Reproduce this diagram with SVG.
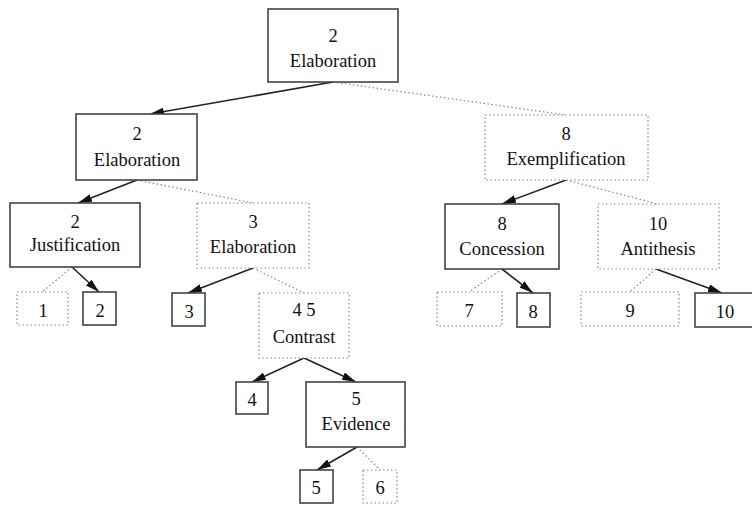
<svg xmlns="http://www.w3.org/2000/svg" width="752" height="505" viewBox="0 0 752 505">
<style>
.nuc{fill:#fff;stroke:#444;stroke-width:1.6}
.sat{fill:#fff;stroke:#888;stroke-width:1.2;stroke-dasharray:1.5 2.5}
text{font-family:"Liberation Serif","Times New Roman",serif;font-size:18.5px;fill:#111;text-anchor:middle}
.arr{stroke:#222;stroke-width:1.6;fill:none}
.dot{stroke:#888;stroke-width:1.2;stroke-dasharray:1.5 2.5;fill:none}
</style>
<defs>
<marker id="ah" viewBox="0 0 14 8" refX="14" refY="4" markerWidth="14" markerHeight="8" markerUnits="userSpaceOnUse" orient="auto">
<path d="M0,0 L14,4 L0,8 Z" fill="#111"/>
</marker>
</defs>
<rect width="752" height="505" fill="#fff"/>
<g id="connectors">
<line class="arr" x1="333" y1="82" x2="150" y2="114" marker-end="url(#ah)"/>
<line class="dot" x1="333" y1="82" x2="566" y2="115"/>
<line class="arr" x1="137" y1="180" x2="78" y2="203" marker-end="url(#ah)"/>
<line class="dot" x1="137" y1="180" x2="253" y2="203"/>
<line class="arr" x1="566" y1="180" x2="502" y2="204" marker-end="url(#ah)"/>
<line class="dot" x1="566" y1="180" x2="658" y2="204"/>
<line class="dot" x1="72" y1="267" x2="42" y2="292"/>
<line class="arr" x1="72" y1="267" x2="99" y2="292" marker-end="url(#ah)"/>
<line class="arr" x1="253" y1="268" x2="188" y2="293" marker-end="url(#ah)"/>
<line class="dot" x1="253" y1="268" x2="304" y2="293"/>
<line class="arr" x1="304" y1="358" x2="252" y2="382" marker-end="url(#ah)"/>
<line class="arr" x1="304" y1="358" x2="356" y2="382" marker-end="url(#ah)"/>
<line class="arr" x1="357" y1="447" x2="317" y2="470" marker-end="url(#ah)"/>
<line class="dot" x1="357" y1="447" x2="380" y2="470"/>
<line class="dot" x1="502" y1="269" x2="469" y2="292"/>
<line class="arr" x1="502" y1="269" x2="533" y2="293" marker-end="url(#ah)"/>
<line class="dot" x1="656" y1="269" x2="630" y2="292"/>
<line class="arr" x1="656" y1="269" x2="722" y2="293" marker-end="url(#ah)"/>
</g>
<g id="n_root"><rect class="nuc" x="268" y="9" width="130" height="73"/><text x="333" y="42">2</text><text x="333" y="67">Elaboration</text></g>
<g id="n_elab2"><rect class="nuc" x="76" y="114" width="121" height="66"/><text x="137" y="140">2</text><text x="137" y="166">Elaboration</text></g>
<g id="n_exempl"><rect class="sat" x="485" y="115" width="163" height="65"/><text x="566" y="140">8</text><text x="566" y="165">Exemplification</text></g>
<g id="n_just"><rect class="nuc" x="10" y="203" width="130" height="64"/><text x="75" y="228">2</text><text x="75" y="251">Justification</text></g>
<g id="n_elab3"><rect class="sat" x="197" y="203" width="112" height="65"/><text x="253" y="228">3</text><text x="253" y="253">Elaboration</text></g>
<g id="n_conc"><rect class="nuc" x="445" y="204" width="114" height="65"/><text x="502" y="230">8</text><text x="502" y="255">Concession</text></g>
<g id="n_anti"><rect class="sat" x="598" y="204" width="121" height="65"/><text x="658" y="230">10</text><text x="658" y="255">Antithesis</text></g>
<g id="leaf1"><rect class="sat" x="17" y="292" width="51" height="33"/><text x="43" y="317">1</text></g>
<g id="leaf2"><rect class="nuc" x="83" y="292" width="33" height="33"/><text x="100" y="317">2</text></g>
<g id="leaf3"><rect class="nuc" x="172" y="293" width="33" height="33"/><text x="189" y="318">3</text></g>
<g id="n_contrast"><rect class="sat" x="259" y="293" width="90" height="65"/><text x="304" y="316">4 5</text><text x="304" y="343">Contrast</text></g>
<g id="leaf4"><rect class="nuc" x="236" y="382" width="32" height="32"/><text x="252" y="406">4</text></g>
<g id="n_evid"><rect class="nuc" x="306" y="382" width="99" height="65"/><text x="356" y="405">5</text><text x="356" y="430">Evidence</text></g>
<g id="leaf5"><rect class="nuc" x="300" y="470" width="33" height="33"/><text x="316" y="494">5</text></g>
<g id="leaf6"><rect class="sat" x="363" y="470" width="34" height="33"/><text x="380" y="494">6</text></g>
<g id="leaf7"><rect class="sat" x="437" y="292" width="65" height="34"/><text x="469" y="317">7</text></g>
<g id="leaf8"><rect class="nuc" x="517" y="293" width="33" height="34"/><text x="533" y="318">8</text></g>
<g id="leaf9"><rect class="sat" x="581" y="292" width="98" height="34"/><text x="630" y="317">9</text></g>
<g id="leaf10"><rect class="nuc" x="695" y="293" width="61" height="34"/><text x="725" y="318">10</text></g>
</svg>
